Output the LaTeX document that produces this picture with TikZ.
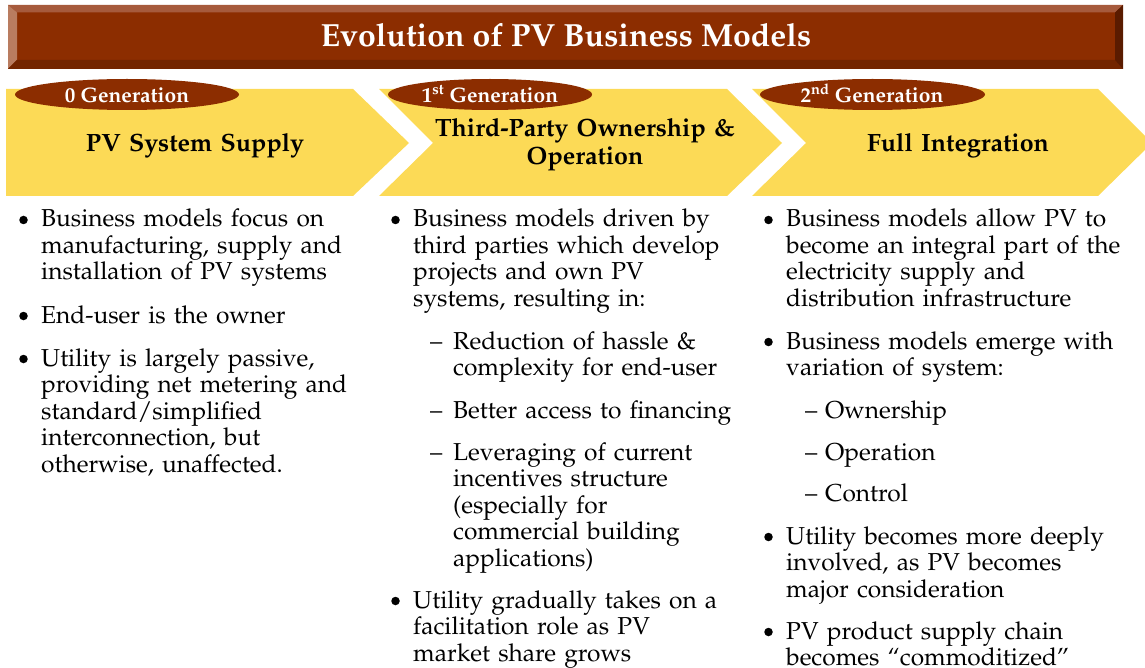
\documentclass[tikz,border=0pt]{standalone}
\usepackage[T1]{fontenc}
\renewcommand{\rmdefault}{ppl}
\usetikzlibrary{shapes.geometric}
\definecolor{rust}{RGB}{140,45,0}
\definecolor{bevtop}{RGB}{166,90,60}
\definecolor{bevleft}{RGB}{185,124,96}
\definecolor{bevbot}{RGB}{115,37,0}
\definecolor{bevright}{RGB}{90,27,0}
\definecolor{chev}{RGB}{252,218,86}
\tikzset{
  chevshape/.style={fill=chev, draw=none},
  genoval/.style={ellipse, fill=rust, draw=none, inner sep=0pt, minimum height=31pt},
  gentext/.style={anchor=base, inner sep=0pt, text=white, font=\bfseries\fontsize{21}{24}\selectfont},
  hdrtext/.style={anchor=base, inner sep=0pt, text width=340pt, align=center, font=\bfseries\fontsize{25}{28}\selectfont},
  titletext/.style={anchor=base, inner sep=0pt, text=white, font=\bfseries\fontsize{32}{36}\selectfont},
  bodytext/.style={anchor=base west, inner sep=0pt, text width=345pt, align=left, font=\fontsize{24.5}{26.5}\selectfont},
  bulletdot/.style={circle, fill=black, draw=none, inner sep=0pt, minimum size=8.5pt},
  dashmark/.style={anchor=base west, inner sep=0pt, font=\fontsize{24.5}{26.5}\selectfont}
}
\begin{document}
\begin{tikzpicture}[x=1pt,y=-1pt]
\useasboundingbox (0,0) rectangle (1145,668);
\clip (0,0) rectangle (1145,668);
% title bar with bevel
\fill[rust] (8,5) rectangle (1123,69);
\fill[bevtop] (8,5) -- (1123,5) -- (1115,12.5) -- (17,12.5) -- cycle;
\fill[bevleft] (8,5) -- (17,12.5) -- (17,60) -- (8,69) -- cycle;
\fill[bevbot] (8,69) -- (17,60) -- (1115,60) -- (1123,69) -- cycle;
\fill[bevright] (1123,5) -- (1115,12.5) -- (1115,60) -- (1123,69) -- cycle;
\node[titletext] (title) at (566,47) {Evolution of PV Business Models};
% chevrons
\fill[chevshape] (6,89) -- (353,89) -- (409,143) -- (353,196) -- (6,196) -- cycle;
\fill[chevshape] (379,89) -- (727,89) -- (782,143) -- (727,196) -- (379,196) -- (433,143) -- cycle;
\fill[chevshape] (752,89) -- (1098,89) -- (1152,143) -- (1098,196) -- (752,196) -- (806,143) -- cycle;
% generation ovals
\node[genoval, minimum width=224pt] (e1) at (127,94.5) {};
\node[genoval, minimum width=204pt] (e2) at (490,94.5) {};
\node[genoval, minimum width=225pt] (e3) at (872.5,94.5) {};
\node[gentext] (g1) at (127,102.5) {0 Generation};
\node[gentext] (g2) at (490,102.5) {1\textsuperscript{st} Generation};
\node[gentext] (g3) at (872,102.5) {2\textsuperscript{nd} Generation};
% headers
\node[hdrtext] (h1) at (195,152) {PV System Supply};
\node[hdrtext] (h2) at (585,137) {Third-Party Ownership \&\\Operation};
\node[hdrtext] (h3) at (958,152) {Full Integration};
% column 1
\node[bulletdot] (b11) at (23.5,220) {};
\node[bodytext] (t11) at (41,227) {Business models focus on\\manufacturing, supply and\\installation of PV systems};
\node[bulletdot] (b12) at (23.5,316) {};
\node[bodytext] (t12) at (41,323) {End-user is the owner};
\node[bulletdot] (b13) at (23.5,359) {};
\node[bodytext] (t13) at (41,366) {Utility is largely passive,\\providing net metering and\\standard/simplified\\interconnection, but\\otherwise, unaffected.};
% column 2
\node[bulletdot] (b21) at (395.5,220) {};
\node[bodytext] (t21) at (413,227) {Business models driven by\\third parties which develop\\projects and own PV\\systems, resulting in:};
\node[dashmark] (d21) at (430,349) {\textendash};
\node[bodytext] (s21) at (453,349) {Reduction of hassle \&\\complexity for end-user};
\node[dashmark] (d22) at (430,418) {\textendash};
\node[bodytext] (s22) at (453,418) {Better access to financing};
\node[dashmark] (d23) at (430,460) {\textendash};
\node[bodytext] (s23) at (453,460) {Leveraging of current\\incentives structure\\(especially for\\commercial building\\applications)};
\node[bulletdot] (b22) at (395.5,601) {};
\node[bodytext] (t22) at (413,608) {Utility gradually takes on a\\facilitation role as PV\\market share grows};
% column 3
\node[bulletdot] (b31) at (768.5,220) {};
\node[bodytext] (t31) at (786,227) {Business models allow PV to\\become an integral part of the\\electricity supply and\\distribution infrastructure};
\node[bulletdot] (b32) at (768.5,342) {};
\node[bodytext] (t32) at (786,349) {Business models emerge with\\variation of system:};
\node[dashmark] (d31) at (805,418) {\textendash};
\node[bodytext] (s31) at (825,418) {Ownership};
\node[dashmark] (d32) at (805,460) {\textendash};
\node[bodytext] (s32) at (825,460) {Operation};
\node[dashmark] (d33) at (805,501) {\textendash};
\node[bodytext] (s33) at (825,501) {Control};
\node[bulletdot] (b33) at (768.5,537) {};
\node[bodytext] (t33) at (786,544) {Utility becomes more deeply\\involved, as PV becomes\\major consideration};
\node[bulletdot] (b34) at (768.5,632) {};
\node[bodytext] (t34) at (786,639) {PV product supply chain\\becomes ``commoditized''};
\end{tikzpicture}
\end{document}
